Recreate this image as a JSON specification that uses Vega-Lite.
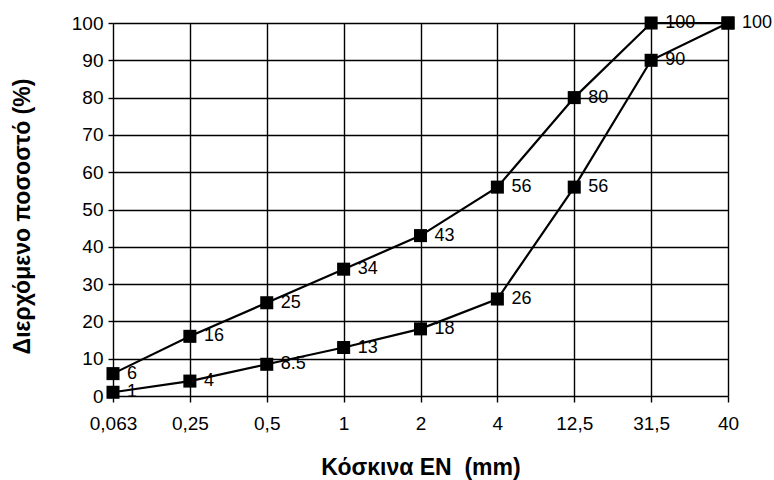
{
  "$schema": "https://vega.github.io/schema/vega-lite/v6.json",
  "autosize": "none",
  "width": 615,
  "height": 373,
  "padding": {"left": 113, "top": 23, "right": 46, "bottom": 84},
  "background": "white",
  "config": {
    "font": "Liberation Sans",
    "view": {"stroke": null}
  },
  "data": {
    "values": [
      {"sieve": "0,063", "series": "upper", "value": 6},
      {"sieve": "0,25", "series": "upper", "value": 16},
      {"sieve": "0,5", "series": "upper", "value": 25},
      {"sieve": "1", "series": "upper", "value": 34},
      {"sieve": "2", "series": "upper", "value": 43},
      {"sieve": "4", "series": "upper", "value": 56},
      {"sieve": "12,5", "series": "upper", "value": 80},
      {"sieve": "31,5", "series": "upper", "value": 100},
      {"sieve": "40", "series": "upper", "value": 100},
      {"sieve": "0,063", "series": "lower", "value": 1},
      {"sieve": "0,25", "series": "lower", "value": 4},
      {"sieve": "0,5", "series": "lower", "value": 8.5},
      {"sieve": "1", "series": "lower", "value": 13},
      {"sieve": "2", "series": "lower", "value": 18},
      {"sieve": "4", "series": "lower", "value": 26},
      {"sieve": "12,5", "series": "lower", "value": 56},
      {"sieve": "31,5", "series": "lower", "value": 90},
      {"sieve": "40", "series": "lower", "value": 100}
    ]
  },
  "encoding": {
    "x": {
      "field": "sieve",
      "type": "ordinal",
      "sort": ["0,063", "0,25", "0,5", "1", "2", "4", "12,5", "31,5", "40"],
      "scale": {"type": "point", "padding": 0},
      "axis": {
        "title": "Κόσκινα EN\u00a0 (mm)",
        "titleFont": "Liberation Sans",
        "titleFontSize": 23,
        "titleFontWeight": "bold",
        "titleColor": "black",
        "titleY": 71,
        "titleBaseline": "middle",
        "labelAngle": 0,
        "labelFontSize": 19,
        "labelColor": "black",
        "labelPadding": 12,
        "tickSize": 6,
        "tickColor": "black",
        "tickWidth": 1.4,
        "domain": false,
        "grid": true,
        "gridColor": "black",
        "gridWidth": 1.4,
        "gridOpacity": 1
      }
    },
    "y": {
      "field": "value",
      "type": "quantitative",
      "scale": {"domain": [0, 100], "nice": false},
      "axis": {
        "title": "Διερχόμενο ποσοστό (%)",
        "titleFont": "Liberation Sans",
        "titleFontSize": 23,
        "titleFontWeight": "bold",
        "titleColor": "black",
        "titleX": -91,
        "titleY": 193,
        "titleAngle": -90,
        "titleAlign": "center",
        "titleBaseline": "middle",
        "values": [0, 10, 20, 30, 40, 50, 60, 70, 80, 90, 100],
        "labelFontSize": 19,
        "labelColor": "black",
        "labelPadding": 5,
        "tickSize": 5,
        "tickColor": "black",
        "tickWidth": 1.4,
        "domain": false,
        "grid": true,
        "gridColor": "black",
        "gridWidth": 1.4,
        "gridOpacity": 1
      }
    }
  },
  "layer": [
    {
      "mark": {"type": "line", "color": "black", "strokeWidth": 2.2},
      "encoding": {"detail": {"field": "series"}}
    },
    {
      "mark": {"type": "point", "shape": "square", "size": 170, "filled": true, "color": "black", "opacity": 1}
    },
    {
      "transform": [{"filter": "!(datum.series == 'lower' && datum.sieve == '40')"}],
      "mark": {"type": "text", "align": "left", "baseline": "middle", "dx": 14, "fontSize": 18, "color": "black"},
      "encoding": {"text": {"field": "value", "type": "quantitative"}}
    }
  ]
}
